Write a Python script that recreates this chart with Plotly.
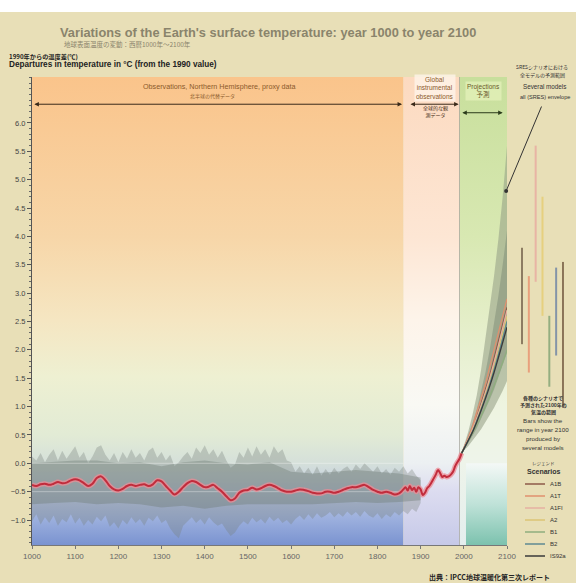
import plotly.graph_objects as go

# ---------------------------------------------------------------- data
# period boundaries: proxy reconstruction / instrumental record / projections
periods = [1000, 1860, 1990, 2100]

# proxy spread (annual extremes), sampled every 10 years 1000-1900
proxy_years = list(range(1000, 1901, 10))
proxy_high = [
    0.12, 0.05, 0.18, 0.02, 0.15, 0.25, 0.05, 0.22, 0.08, 0.18,
    0.30, 0.10, 0.20, 0.00, 0.12, 0.28, 0.32, 0.15, 0.05, 0.18,
    0.02, 0.20, 0.08, 0.25, 0.10, 0.18, 0.05, 0.22, 0.28, 0.10,
    0.20, 0.05, 0.15, -0.05, 0.02, 0.12, 0.20, 0.08, 0.28, 0.18,
    0.32, 0.15, 0.25, 0.10, 0.22, 0.05, -0.08, -0.02, 0.20, 0.10,
    0.28, 0.12, 0.30, 0.15, 0.25, 0.10, 0.30, 0.18, 0.25, 0.05,
    0.02, -0.15, -0.05, -0.18, -0.08, -0.20, -0.05, -0.22, -0.10, -0.20,
    -0.08, -0.18, -0.10, -0.05, -0.15, -0.02, -0.10, 0.00, -0.08, -0.15,
    -0.05, -0.18, -0.10, -0.20, -0.08, -0.15, -0.05, -0.18, -0.10, -0.22,
    -0.30,
]
proxy_low = [
    -1.02, -0.90, -1.08, -0.95, -1.05, -0.92, -1.10, -0.98, -1.04, -0.90,
    -1.06, -0.96, -1.10, -1.00, -1.08, -0.94, -1.02, -0.92, -1.12, -1.04,
    -1.15, -1.00, -1.08, -0.95, -1.05, -0.98, -1.10, -0.96, -1.02, -0.92,
    -1.05, -1.00, -1.15, -1.25, -1.32, -1.10, -1.02, -0.95, -1.05, -0.98,
    -1.08, -0.95, -1.04, -1.10, -1.06, -1.18, -1.28, -1.22, -1.10, -1.02,
    -1.08, -0.96, -1.04, -0.98, -1.06, -0.94, -1.02, -0.96, -1.05, -1.00,
    -1.08, -0.98, -0.92, -1.00, -0.90, -0.98, -0.88, -0.96, -0.92, -0.86,
    -0.95, -0.88, -0.94, -0.85, -0.92, -0.86, -0.94, -0.84, -0.92, -0.96,
    -0.88, -0.98, -0.90, -0.95, -0.86, -0.92, -0.84, -0.90, -0.80, -0.86,
    -0.70,
]

# core uncertainty range of the reconstruction, every 50 years
core_years = list(range(1000, 1901, 50))
core_high = [0.00, 0.02, 0.05, 0.05, 0.00, 0.02, -0.05, 0.02, 0.05, 0.00,
             -0.02, 0.02, -0.15, -0.18, -0.15, -0.12, -0.15, -0.18, -0.25]
core_low = [-0.72, -0.70, -0.68, -0.72, -0.70, -0.72, -0.78, -0.75, -0.80, -0.75,
            -0.72, -0.72, -0.72, -0.72, -0.70, -0.68, -0.70, -0.68, -0.65]

# smoothed northern hemisphere reconstruction, every 10 years 1000-1850
recon_years = list(range(1000, 1851, 10))
recon_temp = [
    -0.38, -0.40, -0.37, -0.36, -0.38, -0.36, -0.33, -0.35, -0.34, -0.30,
    -0.28, -0.30, -0.35, -0.40, -0.36, -0.26, -0.23, -0.30, -0.40, -0.46,
    -0.48, -0.45, -0.40, -0.38, -0.40, -0.38, -0.37, -0.40, -0.37, -0.30,
    -0.32, -0.40, -0.48, -0.55, -0.50, -0.42, -0.35, -0.31, -0.33, -0.38,
    -0.42, -0.41, -0.38, -0.44, -0.50, -0.58, -0.65, -0.62, -0.52, -0.48,
    -0.47, -0.43, -0.46, -0.44, -0.40, -0.38, -0.40, -0.44, -0.48, -0.50,
    -0.50, -0.48, -0.46, -0.47, -0.49, -0.52, -0.53, -0.53, -0.50, -0.50,
    -0.52, -0.50, -0.47, -0.44, -0.42, -0.42, -0.40, -0.38, -0.42, -0.47,
    -0.50, -0.52, -0.50, -0.52, -0.55, -0.53,
]

# global instrumental record, every 5 years
instr_years = list(range(1855, 1996, 5))
instr_temp = [
    -0.50, -0.46, -0.42, -0.48, -0.40, -0.47, -0.43, -0.50, -0.42, -0.46,
    -0.56, -0.52, -0.44, -0.40, -0.34, -0.27, -0.20, -0.12, -0.17, -0.24,
    -0.22, -0.24, -0.23, -0.20, -0.15, -0.05, 0.02, 0.08, 0.18,
]

# projections
proj_years = [1995, 2010, 2020, 2030, 2040, 2050, 2060, 2070, 2080, 2090, 2100]
env_outer_high = [0.18, 0.55, 0.85, 1.20, 1.65, 2.20, 2.75, 3.30, 3.95, 4.70, 5.60]
env_outer_low = [0.18, 0.30, 0.40, 0.50, 0.60, 0.72, 0.85, 0.98, 1.12, 1.28, 1.45]
env_inner_high = [0.18, 0.48, 0.70, 0.95, 1.25, 1.60, 2.00, 2.45, 2.95, 3.50, 4.10]
env_inner_low = [0.18, 0.35, 0.48, 0.62, 0.78, 0.95, 1.12, 1.30, 1.50, 1.72, 1.95]

scenarios = ["A1B", "A1T", "A1FI", "A2", "B1", "B2", "IS92a"]
scenario_colors = ["#8e5a48", "#e0906e", "#e6b0a2", "#dcc474", "#8fae7e", "#5f8a92", "#3a3a3a"]
bar_colors = ["#8c7c62", "#e8a07c", "#e8b4a4", "#e6d07e", "#94ae80", "#8494a8", "#8a7458"]
scenario_paths = {
    "A1B":   [0.18, 0.42, 0.60, 0.82, 1.05, 1.30, 1.55, 1.85, 2.15, 2.45, 2.75],
    "A1T":   [0.18, 0.45, 0.65, 0.90, 1.15, 1.40, 1.70, 2.00, 2.30, 2.60, 2.90],
    "A1FI":  [0.18, 0.42, 0.60, 0.80, 1.02, 1.25, 1.50, 1.78, 2.07, 2.38, 2.70],
    "A2":    [0.18, 0.40, 0.57, 0.76, 0.97, 1.20, 1.44, 1.70, 1.98, 2.28, 2.60],
    "B1":    [0.18, 0.38, 0.52, 0.67, 0.83, 1.00, 1.18, 1.37, 1.57, 1.78, 2.00],
    "B2":    [0.18, 0.40, 0.56, 0.75, 0.95, 1.17, 1.40, 1.65, 1.92, 2.20, 2.50],
    "IS92a": [0.18, 0.40, 0.55, 0.73, 0.93, 1.14, 1.36, 1.60, 1.86, 2.13, 2.40],
}
# model range in 2100 for each scenario
range_low = [2.10, 1.60, 3.20, 2.60, 1.35, 1.90, 1.00]
range_high = [3.80, 3.30, 5.60, 4.70, 2.60, 3.45, 3.55]

x_ticks = list(range(1000, 2101, 100))
y_ticks = [v / 2 for v in range(-2, 13)]
ref_levels = [0.0, -0.5]

# ---------------------------------------------------------------- layout helpers
W, H = 576, 583
ML, MR, MT, MB = 32, 6, 77, 38
PW, PH = W - ML - MR, H - MT - MB
Y0, Y1 = -1.44, 6.81
YEAR_DOMAIN = 475 / PW


def px(x):
    return (x - ML) / PW


def py(y):
    return (H - MB - y) / PH


FONT = "Liberation Sans, Arial, sans-serif"
JFONT = "Noto Sans CJK JP, sans-serif"
BEIGE = "#e8dfb7"

fig = go.Figure()


def rect_gradient(x0, x1, y0, y1, scale):
    fig.add_trace(go.Scatter(
        x=[x0, x1, x1, x0, x0], y=[y0, y0, y1, y1, y0], mode="lines",
        fill="toself", line=dict(width=0),
        fillgradient=dict(type="vertical", colorscale=scale, start=y0, stop=y1),
        hoverinfo="skip", showlegend=False))


def band(xs, hi, lo, color):
    fig.add_trace(go.Scatter(
        x=list(xs) + list(xs)[::-1], y=list(hi) + list(lo)[::-1],
        mode="lines", fill="toself", fillcolor=color, line=dict(width=0),
        hoverinfo="skip", showlegend=False))


# period backgrounds
proxy_scale = [[0, "#7a93d0"], [0.053, "#9aaedd"], [0.114, "#bfcae4"], [0.175, "#d5e0da"],
               [0.236, "#e2ebd5"], [0.36, "#eef0d2"], [0.48, "#f5e6c2"], [0.66, "#f7d6a8"],
               [1, "#fac48b"]]
instr_scale = [[0, "#c6c9e8"], [0.114, "#dcdcf0"], [0.175, "#ecf0f2"], [0.30, "#f9f9f4"],
               [0.48, "#fdf4ea"], [0.66, "#fde6d4"], [1, "#fcdac0"]]
proj_scale = [[0, "#e4eeee"], [0.175, "#eef4ea"], [0.30, "#eef4e0"], [0.48, "#e4eec8"],
              [0.66, "#d8e8b2"], [1, "#c8df9c"]]
rect_gradient(periods[0], periods[1], Y0, Y1, proxy_scale)
rect_gradient(periods[1], periods[2], Y0, Y1, instr_scale)
rect_gradient(periods[2], periods[3], Y0, Y1, proj_scale)
rect_gradient(2005, periods[3], Y0, 0.0, [[0, "#7cc2ae"], [0.5, "#bfe2d8"], [1, "#f4f8f6"]])
fig.add_trace(go.Scatter(x=[periods[2], periods[2]], y=[Y0, Y1], mode="lines",
                         line=dict(color="rgba(150,150,150,0.6)", width=1),
                         hoverinfo="skip", showlegend=False))

# proxy spread and core range
band(proxy_years, proxy_high, proxy_low, "rgba(118,128,122,0.33)")
band(core_years, core_high, core_low, "rgba(105,120,110,0.36)")
for lv in ref_levels:
    fig.add_trace(go.Scatter(x=[periods[0], periods[1]], y=[lv, lv], mode="lines",
                             line=dict(color="rgba(255,255,255,0.35)", width=1),
                             hoverinfo="skip", showlegend=False))

# observed temperature (reconstruction + instrumental)
obs_x = recon_years + instr_years
obs_y = recon_temp + instr_temp
fig.add_trace(go.Scatter(x=obs_x, y=obs_y, mode="lines",
                         line=dict(color="rgba(236,140,150,0.75)", width=5, shape="spline"),
                         hoverinfo="skip", showlegend=False))
fig.add_trace(go.Scatter(x=obs_x, y=obs_y, mode="lines",
                         line=dict(color="#c22c3c", width=2, shape="spline"),
                         hoverinfo="skip", showlegend=False))

# projection envelopes and scenario paths
band(proj_years, env_outer_high, env_outer_low, "rgba(150,160,135,0.58)")
band(proj_years, env_inner_high, env_inner_low, "rgba(120,134,112,0.45)")
for name, col in zip(scenarios, scenario_colors):
    fig.add_trace(go.Scatter(x=proj_years, y=scenario_paths[name], mode="lines",
                             line=dict(color=col, width=1.3, shape="spline"),
                             hoverinfo="skip", showlegend=False))

# 2100 range bars
for name, col, lo, hi in zip(scenarios, bar_colors, range_low, range_high):
    fig.add_trace(go.Scatter(x=[name, name], y=[lo, hi], mode="lines",
                             xaxis="x2", yaxis="y",
                             line=dict(color=col, width=2),
                             hoverinfo="skip", showlegend=False))

# ---------------------------------------------------------------- annotations
ann = []


def text(x, y, s, size, color="#333", bold=False, anchor="center", font=FONT, bg=None):
    if bold:
        s = "<b>" + s + "</b>"
    d = dict(x=px(x), y=py(y), xref="paper", yref="paper", text=s, showarrow=False,
             xanchor=anchor, yanchor="middle", font=dict(size=size, color=color, family=font))
    if bg:
        d["bgcolor"] = bg
    ann.append(d)


text(268, 33, "Variations of the Earth's surface temperature: year 1000 to year 2100",
     12.8, color="#8a846c", bold=True)
text(62, 44, "地球表面温度の変動：西暦1000年～2100年", 6.5, color="#8a846c", anchor="left", font=JFONT)
text(7, 57, "1990年からの温度差(℃)", 6.2, color="#222", anchor="left", font=JFONT, bold=True)
text(7, 64, "Departures in temperature in °C (from the 1990 value)", 8.2, color="#222",
     anchor="left", bold=True)

text(219, 86, "Observations, Northern Hemisphere, proxy data", 7.2, color="#8b5a2b")
text(212, 96, "北半球の代替データ", 5, color="#8b5a2b", font=JFONT)
text(435, 88, "Global<br>instrumental<br>observations", 6.5, color="#8b5a2b",
     bg="rgba(255,246,236,0.75)")
text(435, 112, "全球的な観<br>測データ", 5, color="#4a3018", font=JFONT)
text(483, 91, "Projections<br><span style='font-family:Noto Sans CJK JP'>予測</span>", 6.5,
     color="#6a5a2a", bg="rgba(226,240,184,0.8)")

text(542, 67, "SRESシナリオにおける", 5, color="#333", font=JFONT)
text(542, 75, "全モデルの予測範囲", 5, color="#333", font=JFONT)
text(544, 86, "Several models", 6.3, color="#333")
text(518, 97, "all (SRES) envelope", 5.6, color="#333", anchor="left")

text(543, 398, "各種のシナリオで", 5, color="#333", font=JFONT, bold=True)
text(543, 405, "予測された2100年の", 5, color="#333", font=JFONT, bold=True)
text(543, 412, "気温の範囲", 5, color="#333", font=JFONT, bold=True)
for i, line in enumerate(["Bars show the", "range in year 2100", "produced by", "several models"]):
    text(543, 420 + 9 * i, line, 6.2, color="#333")

text(543, 463, "レジェンド", 4.5, color="#333", font=JFONT)
text(544, 471, "Scenarios", 7, color="#333", bold=True)

shapes = []
for i, (name, col) in enumerate(zip(scenarios, scenario_colors)):
    yy = 484 + 12 * i
    shapes.append(dict(type="line", xref="paper", yref="paper", x0=px(525), x1=px(545),
                       y0=py(yy), y1=py(yy), line=dict(color=col, width=1.5)))
    text(548, yy, name, 6, color="#333", anchor="left")

text(427, 577, "出典：IPCC地球温暖化第三次レポート", 7, color="#222", anchor="left",
     font=JFONT, bold=True)


# period arrows
def span_arrow(x0, x1, yv, color="#3a2a1a"):
    ann.append(dict(x=x1, y=yv, ax=x0, ay=yv, xref="x", yref="y", axref="x", ayref="y",
                    text="", showarrow=True, arrowside="end+start", arrowhead=2,
                    arrowsize=0.9, arrowwidth=1, arrowcolor=color))


span_arrow(1002, 1857, 6.33)
span_arrow(1873, 1988, 6.33)
span_arrow(1993, 2090, 6.18, color="#2a3a1a")

# pointer to the envelope
ann.append(dict(x=2098, y=4.8, xref="x", yref="y", ax=36, ay=-86, axref="pixel",
                ayref="pixel", text="", showarrow=True, arrowhead=6, arrowsize=1,
                arrowwidth=1, arrowcolor="#333"))

# white strip at the top edge
shapes.append(dict(type="rect", xref="paper", yref="paper", x0=px(0), x1=px(W),
                   y0=py(12), y1=py(0), fillcolor="white", line=dict(width=0), layer="below"))

fig.update_layout(
    width=W, height=H, autosize=False,
    margin=dict(l=ML, r=MR, t=MT, b=MB, pad=0, autoexpand=False),
    paper_bgcolor=BEIGE, plot_bgcolor="rgba(0,0,0,0)",
    showlegend=False, annotations=ann, shapes=shapes,
    font=dict(family=FONT),
    xaxis=dict(domain=[0, YEAR_DOMAIN], range=[periods[0], periods[-1]], tickvals=x_ticks,
               ticks="outside", ticklen=3, tickcolor="#777", showline=True, linecolor="#777",
               linewidth=1, showgrid=False, zeroline=False, automargin=False,
               tickfont=dict(size=8, color="#666")),
    xaxis2=dict(domain=[YEAR_DOMAIN, 1], range=[-2.2, 7.03], anchor="y", visible=False,
                type="category", categoryarray=scenarios, automargin=False),
    yaxis=dict(range=[Y0, Y1], tickvals=y_ticks, tickformat=".1f", ticks="outside",
               ticklen=4, tickcolor="#555", showline=True, linecolor="#555", linewidth=1,
               showgrid=False, zeroline=False, automargin=False,
               tickfont=dict(size=7.5, color="#444"),
               minor=dict(dtick=0.1, ticks="outside", ticklen=2, tickcolor="#666")),
)

fig.write_html("out.html")
